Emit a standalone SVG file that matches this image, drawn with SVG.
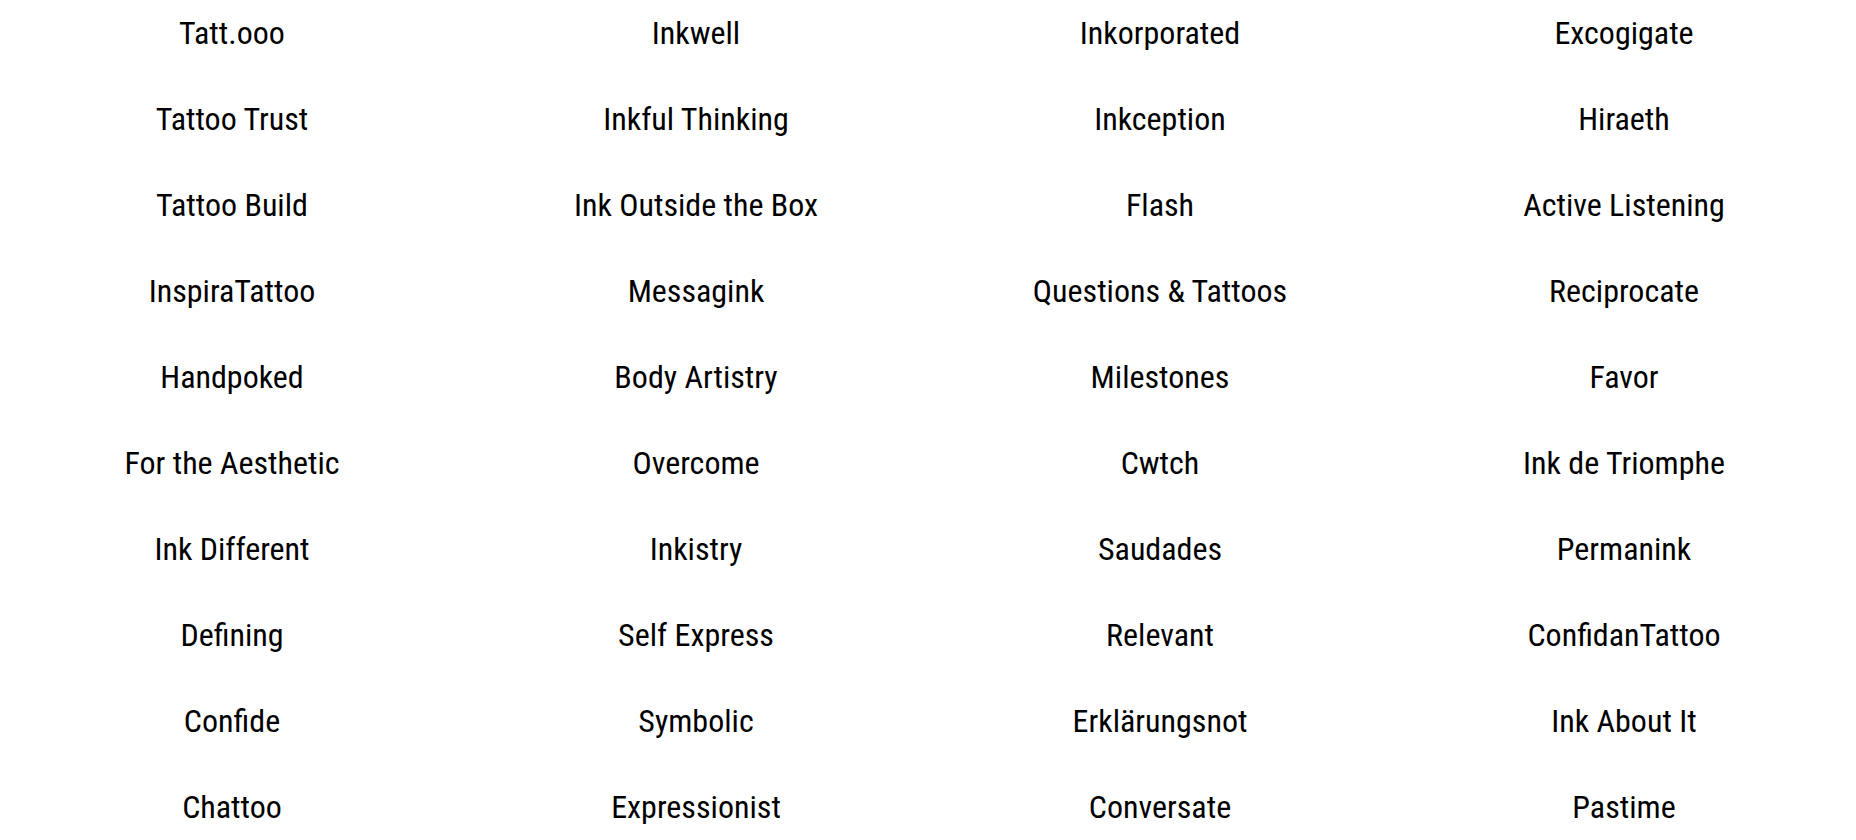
<svg xmlns="http://www.w3.org/2000/svg" width="1856" height="840" viewBox="0 0 1856 840">
<style>
text{font-family:Roboto,"Liberation Sans",sans-serif;font-size:32px;font-stretch:condensed;fill:#000;text-anchor:middle}
</style>
<rect width="1856" height="840" fill="#fff"/>
<g id="col1">
<g id="n1_1"><text x="232" y="44">Tatt.ooo</text></g>
<g id="n1_2"><text x="232" y="130">Tattoo Trust</text></g>
<g id="n1_3"><text x="232" y="216">Tattoo Build</text></g>
<g id="n1_4"><text x="232" y="302">InspiraTattoo</text></g>
<g id="n1_5"><text x="232" y="388">Handpoked</text></g>
<g id="n1_6"><text x="232" y="474">For the Aesthetic</text></g>
<g id="n1_7"><text x="232" y="560">Ink Different</text></g>
<g id="n1_8"><text x="232" y="646">Defining</text></g>
<g id="n1_9"><text x="232" y="732">Confide</text></g>
<g id="n1_10"><text x="232" y="818">Chattoo</text></g>
</g>
<g id="col2">
<g id="n2_1"><text x="696" y="44">Inkwell</text></g>
<g id="n2_2"><text x="696" y="130">Inkful Thinking</text></g>
<g id="n2_3"><text x="696" y="216">Ink Outside the Box</text></g>
<g id="n2_4"><text x="696" y="302">Messagink</text></g>
<g id="n2_5"><text x="696" y="388">Body Artistry</text></g>
<g id="n2_6"><text x="696" y="474">Overcome</text></g>
<g id="n2_7"><text x="696" y="560">Inkistry</text></g>
<g id="n2_8"><text x="696" y="646">Self Express</text></g>
<g id="n2_9"><text x="696" y="732">Symbolic</text></g>
<g id="n2_10"><text x="696" y="818">Expressionist</text></g>
</g>
<g id="col3">
<g id="n3_1"><text x="1160" y="44">Inkorporated</text></g>
<g id="n3_2"><text x="1160" y="130">Inkception</text></g>
<g id="n3_3"><text x="1160" y="216">Flash</text></g>
<g id="n3_4"><text x="1160" y="302">Questions &amp; Tattoos</text></g>
<g id="n3_5"><text x="1160" y="388">Milestones</text></g>
<g id="n3_6"><text x="1160" y="474">Cwtch</text></g>
<g id="n3_7"><text x="1160" y="560">Saudades</text></g>
<g id="n3_8"><text x="1160" y="646">Relevant</text></g>
<g id="n3_9"><text x="1160" y="732">Erklärungsnot</text></g>
<g id="n3_10"><text x="1160" y="818">Conversate</text></g>
</g>
<g id="col4">
<g id="n4_1"><text x="1624" y="44">Excogigate</text></g>
<g id="n4_2"><text x="1624" y="130">Hiraeth</text></g>
<g id="n4_3"><text x="1624" y="216">Active Listening</text></g>
<g id="n4_4"><text x="1624" y="302">Reciprocate</text></g>
<g id="n4_5"><text x="1624" y="388">Favor</text></g>
<g id="n4_6"><text x="1624" y="474">Ink de Triomphe</text></g>
<g id="n4_7"><text x="1624" y="560">Permanink</text></g>
<g id="n4_8"><text x="1624" y="646">ConfidanTattoo</text></g>
<g id="n4_9"><text x="1624" y="732">Ink About It</text></g>
<g id="n4_10"><text x="1624" y="818">Pastime</text></g>
</g>
<g id="connectors"/>
</svg>
